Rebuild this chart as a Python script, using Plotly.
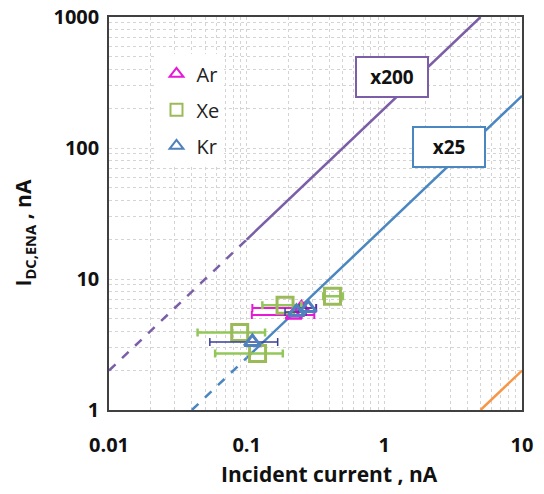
import math
import plotly.graph_objects as go

# ---- data ----
ar_x = [0.22, 0.25]
ar_y = [5.3, 6.0]
ar_err_minus = [0.111, 0.14]
ar_err_plus = [0.09, 0.07]

xe_x = [0.19, 0.42, 0.089, 0.12]
xe_y = [6.3, 7.4, 3.9, 2.7]
xe_err_minus = [0.06, 0.06, 0.045, 0.061]
xe_err_plus = [0.06, 0.08, 0.047, 0.063]

kr_x = [0.11, 0.23, 0.28]
kr_y = [3.3, 5.6, 6.0]
kr_err_minus = [0.056, 0.04, 0.04]
kr_err_plus = [0.058, 0.04, 0.04]

# reference lines y = factor * x
ref_factors = [200, 25, 0.2]
ref_solid_x = [[0.1, 5.0], [0.1, 10.0], [5.0, 10.0]]
ref_dash_x = [[0.01, 0.1], [0.04, 0.1], None]
ref_colors = ["#7b5ea7", "#4a86c0", "#f79646"]
ref_labels = ["x200", "x25", None]
label_pos = [(1.13, 350), (2.95, 102)]

x_ticks = [0.01, 0.1, 1, 10]
x_ticktext = ["0.01", "0.1", "1", "10"]
y_ticks = [1, 10, 100, 1000]
y_ticktext = ["1", "10", "100", "1000"]

FONT = "Open Sans"

fig = go.Figure()

for f, sx, dx, c in zip(ref_factors, ref_solid_x, ref_dash_x, ref_colors):
    fig.add_trace(go.Scatter(x=sx, y=[f * v for v in sx], mode="lines",
                             line=dict(color=c, width=2.5), showlegend=False, hoverinfo="skip"))
    if dx:
        fig.add_trace(go.Scatter(x=dx, y=[f * v for v in dx], mode="lines",
                                 line=dict(color=c, width=2.5, dash="dash"), showlegend=False, hoverinfo="skip"))

fig.add_trace(go.Scatter(
    x=ar_x, y=ar_y, mode="markers", name="Ar", legendgroup="ar",
    marker=dict(symbol="triangle-up-open", size=14, color="#e619d6", line=dict(width=2.5, color="#e619d6")),
    error_x=dict(type="data", array=ar_err_plus, arrayminus=ar_err_minus, color="#e619d6", thickness=2, width=4)))
fig.add_trace(go.Scatter(
    x=xe_x, y=xe_y, mode="markers", name="Xe", legendgroup="xe",
    marker=dict(symbol="square-open", size=16, color="#9bbb59", line=dict(width=3, color="#9bbb59")),
    error_x=dict(type="data", array=xe_err_plus, arrayminus=xe_err_minus, color="#92c85a", thickness=2.5, width=4)))
fig.add_trace(go.Scatter(
    x=kr_x, y=kr_y, mode="markers", name="Kr", legendgroup="kr",
    marker=dict(symbol="triangle-up-open", size=14, color="#4f81bd", line=dict(width=3, color="#4f81bd")),
    error_x=dict(type="data", array=kr_err_plus, arrayminus=kr_err_minus, color="#3a3f96", thickness=1.5, width=4)))

for lab, c, (lx, ly) in zip(ref_labels, ref_colors, label_pos):
    fig.add_annotation(x=math.log10(lx), y=math.log10(ly), xref="x", yref="y",
                       text="<b>" + lab + "</b>", showarrow=False,
                       font=dict(family=FONT, size=19, color="#111111"),
                       bgcolor="white", bordercolor=c, borderwidth=2,
                       width=68, height=36)

# axis titles
fig.add_annotation(x=0.533, y=-0.163, xref="paper", yref="paper", showarrow=False,
                   xanchor="center", yanchor="middle",
                   text="<b>Incident current , nA</b>", font=dict(family=FONT, size=21, color="#111111"))
fig.add_annotation(x=-0.205, y=0.45, xref="paper", yref="paper", showarrow=False, textangle=-90,
                   xanchor="center", yanchor="middle",
                   text="<b>I<sub>DC,ENA</sub> , nA</b>", font=dict(family=FONT, size=21, color="#111111"))

grid = dict(showgrid=True, gridcolor="#d4d4d4", griddash="dot", gridwidth=1)
minor_x = [m * 10 ** e for e in range(-2, 1) for m in range(2, 10)]
minor_y = [m * 10 ** e for e in range(0, 3) for m in range(2, 10)]

fig.update_xaxes(type="log", range=[-2, 1], tickvals=x_ticks, ticktext=x_ticktext,
                 tickfont=dict(family=FONT, size=20, color="#111111", weight="bold"),
                 showline=True, linecolor="#404040", linewidth=1.5, mirror=True, ticks="",
                 minor=dict(tickvals=minor_x, showgrid=True, gridcolor="#d4d4d4", griddash="dot"),
                 automargin=False, ticklabelstandoff=16, ticklabeloverflow="allow", **grid)
fig.update_yaxes(type="log", range=[0, 3], tickvals=y_ticks, ticktext=y_ticktext,
                 tickfont=dict(family=FONT, size=20, color="#111111", weight="bold"),
                 showline=True, linecolor="#404040", linewidth=1.5, mirror=True, ticks="",
                 minor=dict(tickvals=minor_y, showgrid=True, gridcolor="#d4d4d4", griddash="dot"),
                 automargin=False, ticklabelstandoff=4, ticklabeloverflow="allow", **grid)

fig.update_layout(
    width=544, height=494,
    margin=dict(l=101, r=30, t=9, b=92),
    paper_bgcolor="white", plot_bgcolor="white",
    legend=dict(x=0.115, y=0.905, xanchor="left", yanchor="top", bgcolor="white",
                font=dict(family=FONT, size=20, color="#222222"), tracegroupgap=7,
                itemsizing="constant"),
    showlegend=True,
)
fig.write_html("out.html")
